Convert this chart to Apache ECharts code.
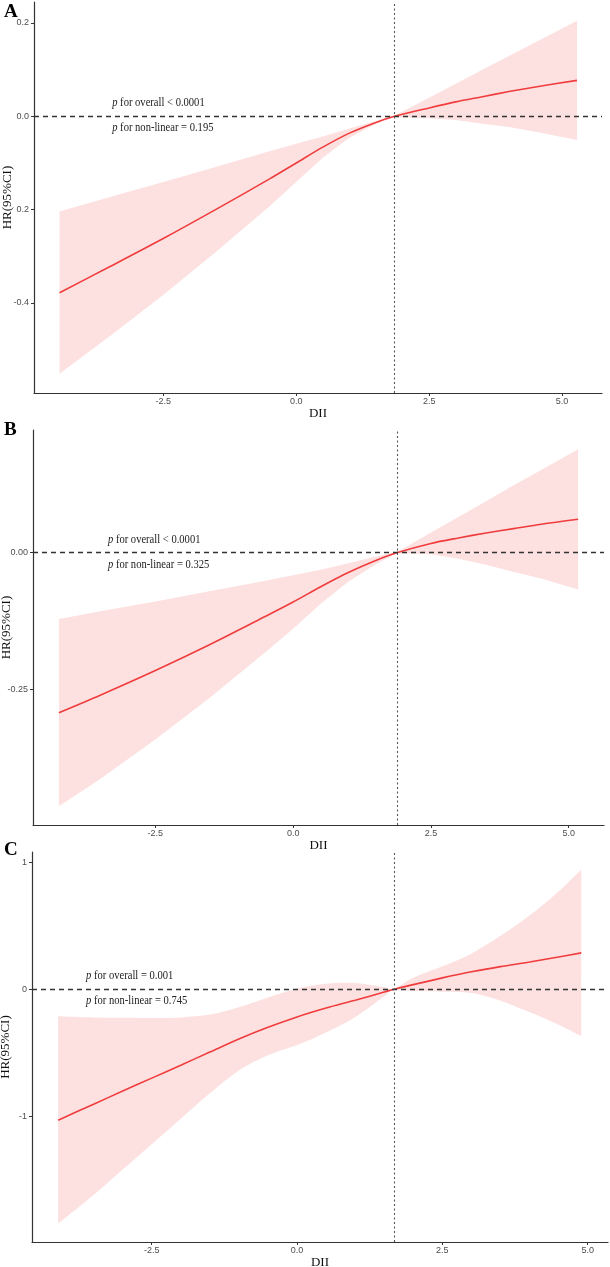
<!DOCTYPE html>
<html>
<head>
<meta charset="utf-8">
<script src="https://cdn.jsdelivr.net/npm/echarts@6/dist/echarts.min.js"></script>
<style>
  html, body { margin: 0; padding: 0; background: #fff; }
  #main { width: 610px; height: 1267px; }
</style>
</head>
<body>
<div id="main"></div>
<script>
// panel A
const xA = [-4.45, -3.5, -2.5, -1.5, -0.5, 0, 0.5, 1, 1.5, 1.85, 2.5, 3, 3.5, 4, 4.5, 5.28];
const fitA = [-0.378, -0.322, -0.262, -0.199, -0.134, -0.100, -0.066, -0.036, -0.013, 0, 0.018, 0.031, 0.042, 0.053, 0.063, 0.077];
const upperA = [-0.204, -0.173, -0.141, -0.108, -0.075, -0.059, -0.043, -0.026, -0.010, 0.002, 0.040, 0.070, 0.100, 0.129, 0.159, 0.205];
const lowerA = [-0.552, -0.471, -0.383, -0.290, -0.193, -0.141, -0.089, -0.046, -0.016, -0.002, -0.004, -0.008, -0.016, -0.023, -0.033, -0.051];
const refA = 1.85;
const yTicksA = [0.2, 0, -0.2, -0.4];
const yLabelsA = ['0.2', '0.0', '0.2', '-0.4'];
const textA = ['p', ' for overall < 0.0001', ' for non-linear = 0.195'];

// panel B
const xB = [-4.25, -3.5, -2.5, -1.5, -0.5, 0, 0.5, 1, 1.5, 1.88, 2.5, 3, 3.5, 4, 4.5, 5.17];
const fitB = [-0.292, -0.260, -0.215, -0.167, -0.116, -0.090, -0.062, -0.036, -0.014, 0, 0.017, 0.027, 0.036, 0.044, 0.052, 0.061];
const upperB = [-0.121, -0.107, -0.089, -0.070, -0.051, -0.041, -0.031, -0.019, -0.007, 0.001, 0.037, 0.065, 0.094, 0.123, 0.151, 0.189];
const lowerB = [-0.463, -0.413, -0.341, -0.264, -0.181, -0.139, -0.093, -0.053, -0.021, -0.001, -0.003, -0.011, -0.022, -0.035, -0.047, -0.067];
const refB = 1.88;
const yTicksB = [0, -0.25];
const yLabelsB = ['0.00', '-0.25'];
const textB = ['p', ' for overall < 0.0001', ' for non-linear = 0.325'];

// panel C
const xC = [-4.11, -3.5, -3, -2.5, -2, -1.5, -1, -0.5, 0, 0.5, 1, 1.5, 1.67, 2, 2.5, 3, 3.5, 4, 4.5, 4.89];
const fitC = [-1.031, -0.905, -0.802, -0.700, -0.598, -0.495, -0.392, -0.300, -0.218, -0.148, -0.087, -0.022, 0, 0.036, 0.089, 0.137, 0.178, 0.214, 0.254, 0.286];
const upperC = [-0.213, -0.222, -0.225, -0.226, -0.222, -0.200, -0.142, -0.065, 0.005, 0.043, 0.048, 0.015, 0.002, 0.09, 0.18, 0.28, 0.42, 0.58, 0.77, 0.943];
const lowerC = [-1.845, -1.62, -1.42, -1.22, -1.02, -0.82, -0.64, -0.52, -0.44, -0.34, -0.22, -0.055, -0.002, -0.015, -0.02, -0.03, -0.09, -0.18, -0.28, -0.37];
const refC = 1.67;
const yTicksC = [1, 0, -1];
const yLabelsC = ['1', '0', '-1'];
const textC = ['p', ' for overall = 0.001', ' for non-linear = 0.745'];

const xTicks = [-2.5, 0, 2.5, 5];
const xLabels = ['-2.5', '0.0', '2.5', '5.0'];

const serif = 'Liberation Serif, Times New Roman, serif';
const sans = 'Liberation Sans, Arial, sans-serif';
const bandColor = '#fde1e1';

const panels = [
  { letter: 'A', xs: xA, fit: fitA, up: upperA, lo: lowerA, ref: refA, yt: yTicksA, yl: yLabelsA, txt: textA,
    grid: { left: 34, top: 2, width: 568, height: 391 }, xr: [-4.93, 5.75], yr: [-0.593, 0.245],
    textX: -3.46, letterTop: 3, bandSmooth: 0 },
  { letter: 'B', xs: xB, fit: fitB, up: upperB, lo: lowerB, ref: refB, yt: yTicksB, yl: yLabelsB, txt: textB,
    grid: { left: 33, top: 430, width: 571, height: 395 }, xr: [-4.72, 5.64], yr: [-0.497, 0.224],
    textX: -3.36, letterTop: 421, bandSmooth: 0 },
  { letter: 'C', xs: xC, fit: fitC, up: upperC, lo: lowerC, ref: refC, yt: yTicksC, yl: yLabelsC, txt: textC,
    grid: { left: 32, top: 852, width: 576, height: 390 }, xr: [-4.56, 5.35], yr: [-1.99, 1.08],
    textX: -3.63, letterTop: 841, bandSmooth: 0.16 }
];

function pickLabel(ticks, labels, v) {
  for (let i = 0; i < ticks.length; i++) {
    if (Math.abs(ticks[i] - v) < 1e-9) return labels[i];
  }
  return '';
}

function pt(q) { return q[0].toFixed(2) + ',' + q[1].toFixed(2) + ' '; }

// path segments through pixel points, straight or catmull-rom style curves
function curve(pts, s) {
  let d = '';
  const n = pts.length;
  for (let i = 0; i < n - 1; i++) {
    const p1 = pts[i], p2 = pts[i + 1];
    if (!s) { d += 'L' + pt(p2); continue; }
    const p0 = pts[Math.max(i - 1, 0)], p3 = pts[Math.min(i + 2, n - 1)];
    const c1 = [p1[0] + (p2[0] - p0[0]) * s, p1[1] + (p2[1] - p0[1]) * s];
    const c2 = [p2[0] - (p3[0] - p1[0]) * s, p2[1] - (p3[1] - p1[1]) * s];
    d += 'C' + pt(c1) + pt(c2) + pt(p2);
  }
  return d;
}

const grids = [], xAxes = [], yAxes = [], series = [];
panels.forEach((p, i) => {
  grids.push(Object.assign({ containLabel: false, outerBoundsMode: 'none' }, p.grid));
  xAxes.push({
    type: 'value', gridIndex: i, min: p.xr[0], max: p.xr[1], z: 10,
    name: 'DII', nameLocation: 'middle', nameGap: i === 1 ? 10 : 12,
    nameTextStyle: { fontFamily: serif, fontSize: 13, color: '#111' },
    axisLine: { onZero: false, lineStyle: { color: '#333', width: 1.2 } },
    axisTick: { show: true, length: 3, customValues: xTicks, lineStyle: { color: '#333' } },
    axisLabel: { customValues: xTicks, margin: 4, fontFamily: sans, fontSize: 9, color: '#4d4d4d',
      formatter: v => pickLabel(xTicks, xLabels, v) },
    splitLine: { show: false }
  });
  yAxes.push({
    type: 'value', gridIndex: i, min: p.yr[0], max: p.yr[1], z: 10,
    name: 'HR(95%CI)', nameLocation: 'middle', nameGap: 20, nameRotate: 90, nameMoveOverlap: false,
    nameTextStyle: { fontFamily: serif, fontSize: 13, color: '#111' },
    axisLine: { show: true, onZero: false, lineStyle: { color: '#333', width: 1.2 } },
    axisTick: { show: true, length: 3, customValues: p.yt, lineStyle: { color: '#333' } },
    axisLabel: { customValues: p.yt, margin: 5, fontFamily: sans, fontSize: 9, color: '#4d4d4d',
      formatter: v => pickLabel(p.yt, p.yl, v) },
    splitLine: { show: false }
  });
  // confidence band: upper bound forward, lower bound back
  series.push({
    type: 'custom', xAxisIndex: i, yAxisIndex: i, silent: true, z: 1,
    data: [[p.xs[0], p.fit[0]]],
    renderItem: (params, api) => {
      const top = p.xs.map((x, k) => api.coord([x, p.up[k]]));
      const bot = p.xs.map((x, k) => api.coord([x, p.lo[k]])).reverse();
      const d = 'M' + pt(top[0]) + curve(top, p.bandSmooth) + 'L' + pt(bot[0]) + curve(bot, p.bandSmooth) + 'Z';
      return { type: 'path', shape: { pathData: d }, style: { fill: bandColor, stroke: null } };
    }
  });
  series.push({
    type: 'line', xAxisIndex: i, yAxisIndex: i,
    data: p.xs.map((x, k) => [x, p.fit[k]]), symbol: 'none', smooth: 0.3,
    lineStyle: { color: '#f03c3c', width: 1.6 }, z: 3,
    markLine: {
      silent: true, symbol: 'none', label: { show: false }, animation: false,
      data: [
        { yAxis: 0, lineStyle: { type: [5, 4], width: 1.3, color: '#333' } },
        { xAxis: p.ref, lineStyle: { type: [2, 2.5], width: 1.1, color: '#555' } }
      ]
    }
  });
});

const chart = echarts.init(document.getElementById('main'));
chart.setOption({
  animation: false,
  backgroundColor: '#fff',
  grid: grids,
  xAxis: xAxes,
  yAxis: yAxes,
  series: series
});

// panel letters and p-value notes
const graphics = [];
panels.forEach((p, i) => {
  graphics.push({
    type: 'text', left: 4, top: p.letterTop, z: 20,
    style: { text: p.letter, font: 'bold 19px ' + serif, fill: '#000' }
  });
  const pos = chart.convertToPixel({ gridIndex: i }, [p.textX, 0]);
  [[p.txt[1], -13], [p.txt[2], 12]].forEach(([rest, dy]) => {
    graphics.push({
      type: 'text', x: pos[0], y: pos[1] + dy, scaleX: 0.88, z: 20,
      style: { text: p.txt[0], font: 'italic 12px ' + serif, fill: '#222', verticalAlign: 'middle', align: 'left' }
    });
    graphics.push({
      type: 'text', x: pos[0] + 5.3, y: pos[1] + dy, scaleX: 0.88, z: 20,
      style: { text: rest, font: '12px ' + serif, fill: '#222', verticalAlign: 'middle', align: 'left' }
    });
  });
});
chart.setOption({ graphic: graphics });
</script>
</body>
</html>
